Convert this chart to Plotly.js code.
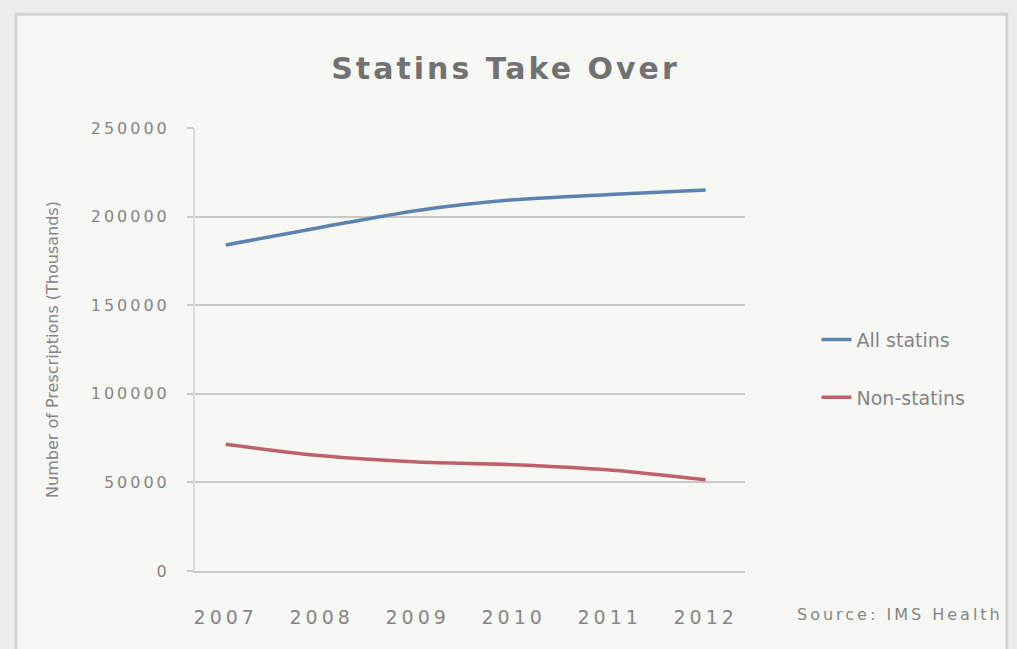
<!DOCTYPE html>
<html>
<head>
<meta charset="utf-8">
<script src="https://cdn.plot.ly/plotly-3.0.1.min.js"></script>
<style>
  html, body { margin: 0; padding: 0; background: #ecede8; }
  #chart { width: 1017px; height: 649px; }
  /* wide, airy lettering */
  #chart .gtitle { letter-spacing: 3px; }
  #chart .ytick text { letter-spacing: 3px; }
  #chart .xtick text { letter-spacing: 4px; }
  #chart .annotation-text { letter-spacing: 3px; }
</style>
</head>
<body>
<div id="chart"></div>
<script>
// Prescriptions dispensed per year
const years = ['2007', '2008', '2009', '2010', '2011', '2012'];
const allStatins = [184000, 194000, 203500, 209500, 212500, 215000];
const nonStatins = [71500, 65000, 61500, 60000, 57000, 51500];
const yTicks = [0, 50000, 100000, 150000, 200000, 250000];
const seriesNames = ['All statins', 'Non-statins'];

const font = 'DejaVu Sans, Liberation Sans, sans-serif';
const textGrey = '#858585';

const traces = [
  {
    x: years, y: allStatins, name: seriesNames[0], type: 'scatter', mode: 'lines',
    line: { color: '#5b83b0', width: 3.5, shape: 'spline', smoothing: 0.8 },
    legendgroup: 'a'
  },
  {
    x: years, y: nonStatins, name: seriesNames[1], type: 'scatter', mode: 'lines',
    line: { color: '#c0606b', width: 3.5, shape: 'spline', smoothing: 0.8 },
    legendgroup: 'b'
  }
];

const layout = {
  width: 1017, height: 649,
  margin: { l: 195, r: 272, t: 128, b: 78 },
  paper_bgcolor: '#ecede8',
  plot_bgcolor: 'rgba(0,0,0,0)',
  font: { family: font, color: textGrey },
  title: {
    text: 'Statins Take Over',
    font: { family: font, size: 30, color: '#727272', weight: 'bold' },
    xref: 'container', x: 0.497, xanchor: 'center',
    yref: 'container', y: 0.895, yanchor: 'middle'
  },
  xaxis: {
    type: 'category',
    range: [-0.32, 5.41],
    showgrid: false, zeroline: false,
    showline: true, linecolor: '#c9cac6', linewidth: 2,
    ticks: '', ticklabelstandoff: 28,
    tickfont: { family: font, size: 19, color: textGrey }
  },
  yaxis: {
    range: [0, 250000],
    tickvals: yTicks,
    ticktext: yTicks.map(String),
    showgrid: true, gridcolor: '#c9cac6', gridwidth: 2,
    zeroline: false,
    showline: true, linecolor: '#dcddd8', linewidth: 2,
    ticks: 'outside', ticklen: 6, tickcolor: '#c9cac6', tickwidth: 2,
    ticklabelstandoff: 14,
    tickfont: { family: font, size: 16, color: textGrey },
    title: {
      text: 'Number of Prescriptions (Thousands)',
      font: { family: font, size: 16, color: textGrey },
      standoff: 46
    }
  },
  legend: {
    x: 1.13, xanchor: 'left',
    y: 0.565, yanchor: 'top',
    bgcolor: 'rgba(0,0,0,0)',
    font: { family: font, size: 19, color: textGrey },
    traceorder: 'grouped',
    tracegroupgap: 30
  },
  shapes: [
    {
      type: 'rect', xref: 'paper', yref: 'paper', layer: 'below',
      x0: -0.3255, x1: 1.476, y0: -0.3, y1: 1.257,
      fillcolor: '#f7f8f4', line: { color: '#d2d3ce', width: 3 }
    }
  ],
  annotations: [
    {
      text: 'Source: IMS Health',
      xref: 'paper', yref: 'paper',
      x: 1.14, xanchor: 'left',
      y: -0.099, yanchor: 'middle',
      showarrow: false,
      font: { family: font, size: 16, color: textGrey }
    }
  ]
};

Plotly.newPlot('chart', traces, layout, { displayModeBar: false, staticPlot: true });
</script>
</body>
</html>
